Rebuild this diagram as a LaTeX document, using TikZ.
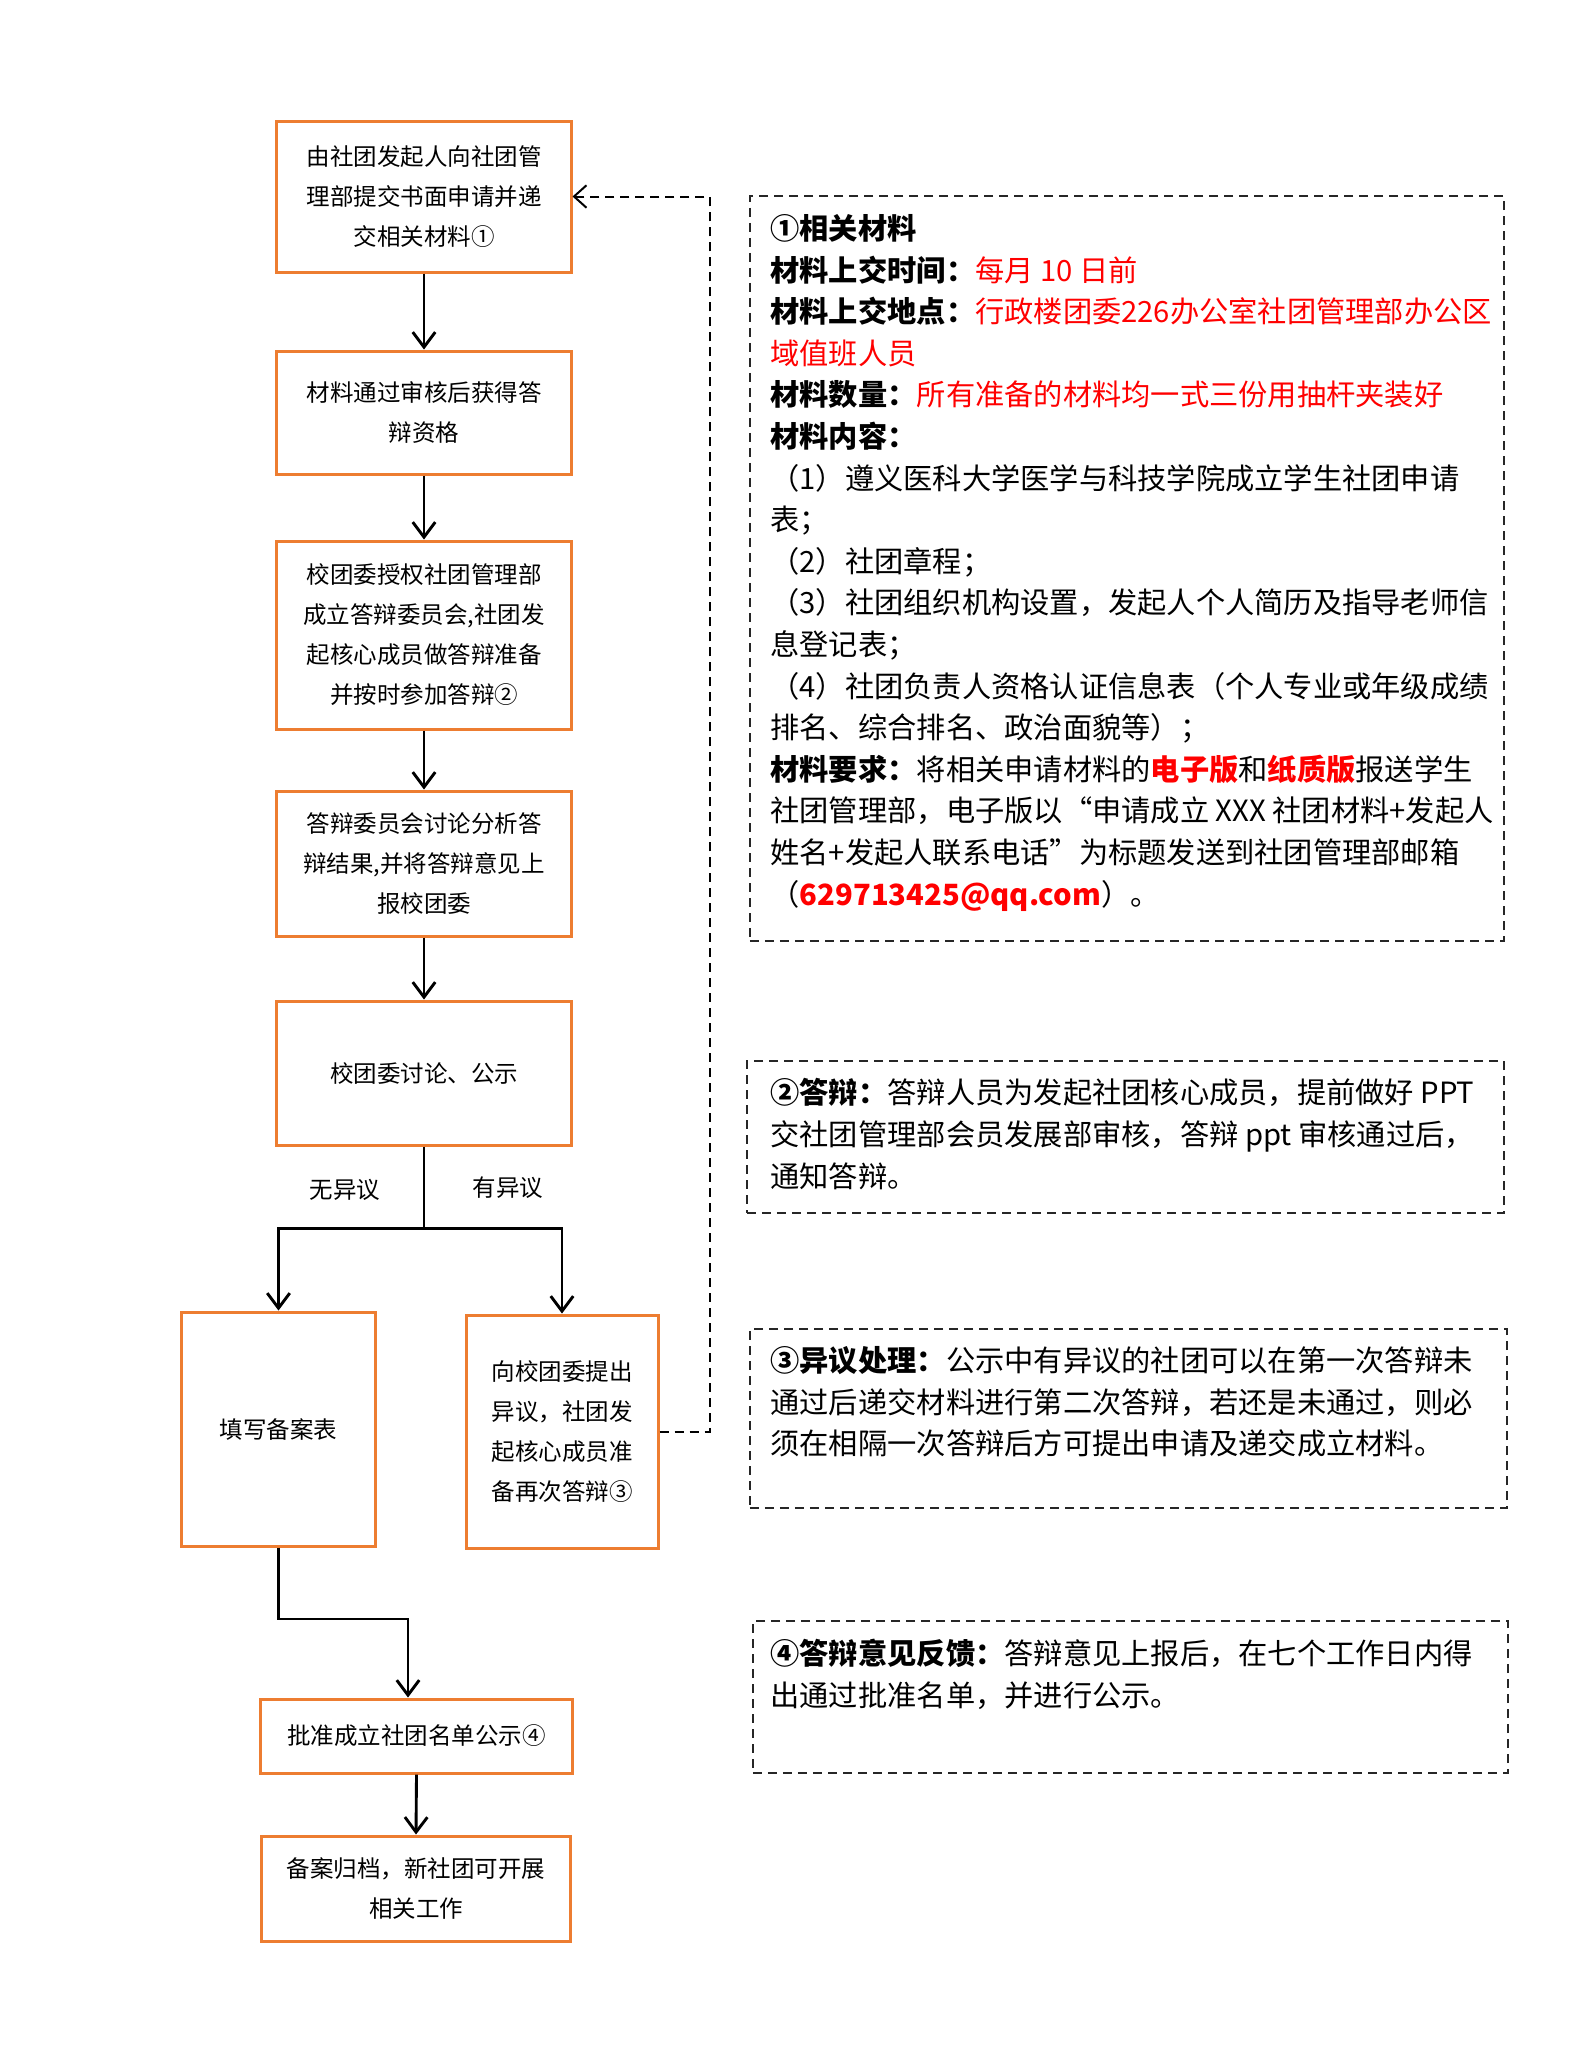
\documentclass[tikz,border=0pt]{standalone}
\usepackage{fontspec}
\setmainfont{Noto Sans CJK SC}
\usetikzlibrary{positioning, arrows.meta, calc}
\definecolor{boxorange}{RGB}{237,125,49}
\newcommand{\redtxt}[1]{\textcolor{red}{#1}}

\begin{document}
\begin{tikzpicture}[
  x=0.4bp, y=-0.4bp,
  font=\fontsize{9.4bp}{16bp}\selectfont,
  % 流程框样式
  flowbox/.style={draw=boxorange, rectangle, line width=1.2bp, minimum width=117.6bp, align=center, inner sep=0pt},
  % 说明框样式
  notebox/.style={draw=black!85, rectangle, dashed, dash pattern=on 3.6bp off 2.4bp, line width=0.8bp},
  notetext/.style={align=left, inner sep=0pt, font=\fontsize{11.7bp}{16.64bp}\selectfont},
  tag/.style={inner sep=0pt},
  % 箭头样式
  line/.style={draw, -{Straight Barb[length=6bp, width=9bp]}, line width=1.15bp},
  back/.style={draw, dashed, dash pattern=on 3.6bp off 2.4bp, line width=0.8bp, -{Straight Barb[length=5bp, width=9bp]}}
]
  \useasboundingbox[fill=white] (0,0) rectangle (1587,2064);

  % ==========================================
  % 主流程
  % ==========================================
  \node[flowbox, minimum height=60.4bp] (apply) at (424,196.5) {由社团发起人向社团管\\理部提交书面申请并递\\交相关材料①};
  \node[flowbox, minimum height=49.2bp] (review) at (424,412.5) {材料通过审核后获得答\\辩资格};
  \node[flowbox, minimum height=75.2bp] (defense) at (424,635) {校团委授权社团管理部\\成立答辩委员会,社团发\\起核心成员做答辩准备\\并按时参加答辩②};
  \node[flowbox, minimum height=58bp] (result) at (424,863.5) {答辩委员会讨论分析答\\辩结果,并将答辩意见上\\报校团委};
  \node[flowbox, minimum height=57.6bp] (publicity) at (424,1073) {校团委讨论、公示};

  \draw[line] (apply.south) -- (review.north);
  \draw[line] (review.south) -- (defense.north);
  \draw[line] (defense.south) -- (result.north);
  \draw[line] (result.south) -- (publicity.north);

  % 分支
  \node[flowbox, minimum width=77.2bp, minimum height=93.6bp] (record) at (278.5,1429) {填写备案表};
  \node[flowbox, minimum width=76.8bp, minimum height=93.2bp] (objection) at (562,1431.5) {向校团委提出\\异议，社团发\\起核心成员准\\备再次答辩③};

  \coordinate (fork) at ($(publicity.south)+(0,82)$);
  \draw[line] (publicity.south) -- (fork) -| (record.north);
  \draw[line] (fork) -| (objection.north);
  \node[tag] (noobj) at (345,1190) {无异议};
  \node[tag] (hasobj) at (508,1188) {有异议};

  % 批准与归档
  \node[flowbox, minimum width=124.4bp, minimum height=29.6bp] (approve) at (416.5,1736) {批准成立社团名单公示④};
  \node[flowbox, minimum width=123.6bp, minimum height=42bp] (archive) at (416,1888.5) {备案归档，新社团可开展\\相关工作};

  \coordinate (merge) at (408,1619);
  \draw[line] (record.south) |- (merge) -- (merge |- approve.north);
  \draw[line] (approve.south) -- (archive.north);

  % 再次答辩回到第一步
  \draw[back] (objection.east) -- ++(50,0) |- (apply.east);

  % ==========================================
  % 说明框
  % ==========================================
  \node[notebox, minimum width=301.6bp, minimum height=298bp] (note1) at (1127,568.5) {};
  \node[notetext, below right=7.6bp and 8.4bp of note1.north west] (note1txt) {%
    \textbf{①相关材料}\\
    \textbf{材料上交时间：}\redtxt{每月 10 日前}\\
    \textbf{材料上交地点：}\redtxt{行政楼团委226办公室社团管理部办公区}\\
    \redtxt{域值班人员}\\
    \textbf{材料数量：}\redtxt{所有准备的材料均一式三份用抽杆夹装好}\\
    \textbf{材料内容：}\\
    （1）遵义医科大学医学与科技学院成立学生社团申请\\
    表；\\
    （2）社团章程；\\
    （3）社团组织机构设置，发起人个人简历及指导老师信\\
    息登记表；\\
    （4）社团负责人资格认证信息表（个人专业或年级成绩\\
    排名、综合排名、政治面貌等）；\\
    \textbf{材料要求：}将相关申请材料的\redtxt{\textbf{电子版}}和\redtxt{\textbf{纸质版}}报送学生\\
    社团管理部，电子版以“申请成立 XXX 社团材料+发起人\\
    姓名+发起人联系电话”为标题发送到社团管理部邮箱\\
    （\redtxt{\textbf{629713425@qq.com}}）。};

  \node[notebox, minimum width=302.8bp, minimum height=60.8bp] (note2) at (1125.5,1137) {};
  \node[notetext, below right=7.2bp and 9.6bp of note2.north west] (note2txt) {%
    \textbf{②答辩：}答辩人员为发起社团核心成员，提前做好 PPT\\
    交社团管理部会员发展部审核，答辩 ppt 审核通过后，\\
    通知答辩。};

  \node[notebox, minimum width=302.8bp, minimum height=71.6bp] (note3) at (1128.5,1418.5) {};
  \node[notetext, below right=7.2bp and 8.4bp of note3.north west] (note3txt) {%
    \textbf{③异议处理：}公示中有异议的社团可以在第一次答辩未\\
    通过后递交材料进行第二次答辩，若还是未通过，则必\\
    须在相隔一次答辩后方可提出申请及递交成立材料。};

  \node[notebox, minimum width=302bp, minimum height=60.8bp] (note4) at (1130.5,1697) {};
  \node[notetext, below right=7.6bp and 7.2bp of note4.north west] (note4txt) {%
    \textbf{④答辩意见反馈：}答辩意见上报后，在七个工作日内得\\
    出通过批准名单，并进行公示。};

\end{tikzpicture}
\end{document}
